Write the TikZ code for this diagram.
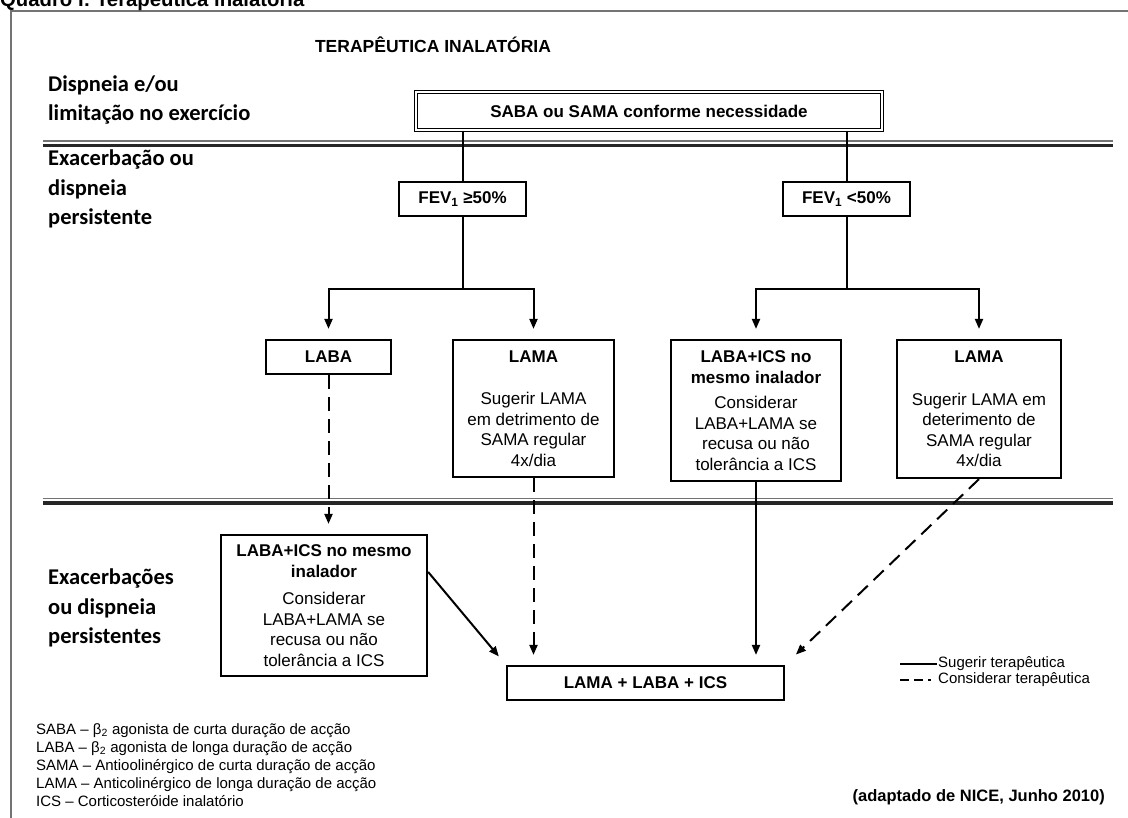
\documentclass[tikz,border=0pt]{standalone}
\usepackage{fontspec}
\setmainfont{Liberation Sans}
\newfontfamily\calibrifont{Carlito}
\usetikzlibrary{arrows.meta, calc}

\begin{document}
\begin{tikzpicture}[x=1pt, y=-1pt,
    box/.style={draw, line width=2.2pt, fill=white, inner sep=0pt, align=center,
        font=\fontsize{17}{20.5}\selectfont},
    rowlabel/.style={anchor=west, align=left, inner sep=0pt,
        font=\calibrifont\bfseries\fontsize{22.5}{29.5}\selectfont},
    link/.style={line width=2pt, -{Triangle[length=10pt, width=8pt]}, shorten >=10pt},
    maybe/.style={link, dash pattern=on 14pt off 8pt},
    thinrule/.style={line width=1.5pt, black!55},
    thickrule/.style={line width=3.8pt, black!85}]
    \useasboundingbox (0,0) rectangle (1128,818);
    \draw[black!55, line width=2pt] (1140,11) -- (11,11) -- (11,830);
    \node[anchor=base west, inner sep=0pt, font=\bfseries\fontsize{20.3}{24}\selectfont] (quadro) at (0,7) {Quadro I: Terapêutica inalatória};
    \node[font=\bfseries\fontsize{17.5}{20}\selectfont] (title) at (433,45) {TERAPÊUTICA INALATÓRIA};

    % linhas de separacao
    \draw[thinrule] (43,141) -- (1113,141);
    \draw[thickrule] (43,145.5) -- (1113,145.5);
    \draw[thinrule] (43,498.5) -- (1113,498.5);
    \draw[thickrule] (43,503) -- (1113,503);

    \node[rowlabel] (dysp) at (48,100) {Dispneia e/ou\\limitação no exercício};
    \node[rowlabel] (exac) at (48,189) {Exacerbação ou\\dispneia\\persistente};
    \node[rowlabel] (exacs) at (48,608) {Exacerbações\\ou dispneia\\persistentes};

    \node[box, double, double distance=2.4pt, line width=1.2pt, minimum width=466, minimum height=38] (saba) at (649,111) {\textbf{SABA ou SAMA conforme necessidade}};
    \node[box, minimum width=127, minimum height=34] (fevhi) at (462.5,199) {\textbf{FEV\textsubscript{1} ≥50\%}};
    \node[box, minimum width=127, minimum height=34] (fevlo) at (846.5,199) {\textbf{FEV\textsubscript{1} <50\%}};
    \draw[line width=2pt] (saba.south -| fevhi.north) -- (fevhi.north);
    \draw[line width=2pt] (saba.south -| fevlo.north) -- (fevlo.north);

    \node[box, minimum width=125, minimum height=34] (laba) at (328.5,357) {\textbf{LABA}};
    \node[box, minimum width=161, minimum height=137] (lamaA) at (533.5,408.5) {\textbf{LAMA}\\[22pt]Sugerir LAMA\\em detrimento de\\SAMA regular\\4x/dia};
    \node[box, minimum width=170, minimum height=141] (icsB) at (756,410.5) {\textbf{LABA+ICS no}\\\textbf{mesmo inalador}\\[5pt]Considerar\\LABA+LAMA se\\recusa ou não\\tolerância a ICS};
    \node[box, minimum width=164, minimum height=138] (lamaB) at (979,409) {\textbf{LAMA}\\[22pt]Sugerir LAMA em\\deterimento de\\SAMA regular\\4x/dia};

    \coordinate (splithi) at (fevhi.south |- 0,289);
    \coordinate (splitlo) at (fevlo.south |- 0,289);
    \draw[link] (fevhi.south) -- (splithi) -| (laba.north);
    \draw[link] (splithi) -| (lamaA.north);
    \draw[link] (fevlo.south) -- (splitlo) -| (icsB.north);
    \draw[link] (splitlo) -| (lamaB.north);

    \node[box, minimum width=206, minimum height=141] (lowics) at (324,605.5) {\textbf{LABA+ICS no mesmo}\\\textbf{inalador}\\[7pt]Considerar\\LABA+LAMA se\\recusa ou não\\tolerância a ICS};
    \node[box, minimum width=277, minimum height=34] (final) at (645.5,683) {\textbf{LAMA + LABA + ICS}};

    \draw[maybe] (laba.south) -- (laba.south |- lowics.north);
    \draw[maybe] (lamaA.south) -- (lamaA.south |- final.north);
    \draw[link] (icsB.south) -- (icsB.south |- final.north);
    \draw[maybe, shorten >=15pt] (lamaB.south) -- (final.north east);
    \draw[link, shorten >=11pt] ($(lowics.north east)+(0,38)$) -- (final.north west);

    % legenda
    \node[anchor=west, inner sep=1pt, font=\fontsize{15}{18}\selectfont] (legsug) at (937,664) {Sugerir terapêutica};
    \node[anchor=west, inner sep=1pt, font=\fontsize{15}{18}\selectfont] (legcon) at (937,680) {Considerar terapêutica};
    \draw[line width=1.4pt] (900,664) -- (legsug.west);
    \draw[line width=1.4pt, dash pattern=on 9pt off 5pt on 9pt off 5pt on 3pt off 9pt] (900,680) -- (legcon.west);

    \node[anchor=north west, align=left, inner sep=0pt, font=\fontsize{15}{18}\selectfont] (abbrev) at (36,723) {SABA – β\textsubscript{2} agonista de curta duração de acção\\LABA – β\textsubscript{2} agonista de longa duração de acção\\SAMA – Antioolinérgico de curta duração de acção\\LAMA – Anticolinérgico de longa duração de acção\\ICS – Corticosteróide inalatório};
    \node[anchor=east, inner sep=0pt, font=\bfseries\fontsize{16.5}{20}\selectfont] (source) at (1105,797) {(adaptado de NICE, Junho 2010)};
\end{tikzpicture}
\end{document}
